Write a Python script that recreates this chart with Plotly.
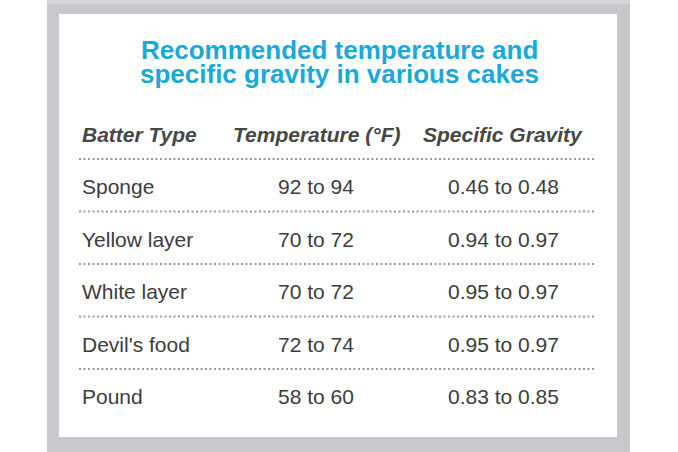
import plotly.graph_objects as go

title_lines = ["Recommended temperature and", "specific gravity in various cakes"]
headers = ["Batter Type", "Temperature (°F)", "Specific Gravity"]
batter_types = ["Sponge", "Yellow layer", "White layer", "Devil's food", "Pound"]
temperatures = ["92 to 94", "70 to 72", "70 to 72", "72 to 74", "58 to 60"]
gravities = ["0.46 to 0.48", "0.94 to 0.97", "0.95 to 0.97", "0.95 to 0.97", "0.83 to 0.85"]

W, H = 678, 452
FONT = "Liberation Sans, Arial, sans-serif"
TITLE_COLOR = "#1aa9d8"
HEAD_COLOR = "#474747"
TEXT_COLOR = "#3d3d3d"
DOT_COLOR = "#9a9a9a"

# layout constants (pixels)
col_x = [80, 316, 503]
col_anchor = ["left", "center", "center"]
header_y = 134.5
row_y0, pitch = 186.5, 52.5
line_y0 = 159
line_x = (79, 595)

fig = go.Figure()
fig.add_trace(go.Scatter(x=[0, W], y=[0, H], mode="markers",
                         marker=dict(opacity=0), hoverinfo="skip", showlegend=False))

shapes = [
    dict(type="rect", xref="x", yref="y", x0=47, x1=630, y0=0, y1=H,
         fillcolor="#c9c9cd", line=dict(width=0), layer="below"),
    dict(type="rect", xref="x", yref="y", x0=47, x1=630, y0=0, y1=4,
         fillcolor="#d6d6d8", line=dict(width=0), layer="below"),
    dict(type="rect", xref="x", yref="y", x0=59, x1=617, y0=14, y1=437,
         fillcolor="#ffffff", line=dict(width=0), layer="below"),
]
for i in range(len(batter_types)):
    y = line_y0 + pitch * i
    shapes.append(dict(type="line", xref="x", yref="y", x0=line_x[0], x1=line_x[1],
                       y0=y, y1=y, line=dict(color=DOT_COLOR, width=2, dash="2px,2.5px")))

ann = []
title_y = [50, 74]
for t, y in zip(title_lines, title_y):
    ann.append(dict(x=339, y=y, xref="x", yref="y", text="<b>%s</b>" % t, showarrow=False,
                    xanchor="center", yanchor="middle",
                    font=dict(family=FONT, size=26, color=TITLE_COLOR)))
for h, x, a in zip(headers, col_x, col_anchor):
    ann.append(dict(x=x, y=header_y, xref="x", yref="y", text="<b><i>%s</i></b>" % h,
                    showarrow=False, xanchor=a, yanchor="middle",
                    font=dict(family=FONT, size=21, color=HEAD_COLOR)))
for i, row in enumerate(zip(batter_types, temperatures, gravities)):
    y = row_y0 + pitch * i
    for val, x, a in zip(row, col_x, col_anchor):
        ann.append(dict(x=x, y=y, xref="x", yref="y", text=val, showarrow=False,
                        xanchor=a, yanchor="middle",
                        font=dict(family=FONT, size=21, color=TEXT_COLOR)))

fig.update_layout(
    width=W, height=H, margin=dict(l=0, r=0, t=0, b=0),
    paper_bgcolor="#ffffff", plot_bgcolor="#ffffff",
    xaxis=dict(range=[0, W], visible=False, fixedrange=True),
    yaxis=dict(range=[H, 0], visible=False, fixedrange=True),
    shapes=shapes, annotations=ann, showlegend=False,
)
fig.write_html("out.html", config={"displayModeBar": False},
               post_script="document.body.style.margin='0';document.body.style.overflow='hidden';")
